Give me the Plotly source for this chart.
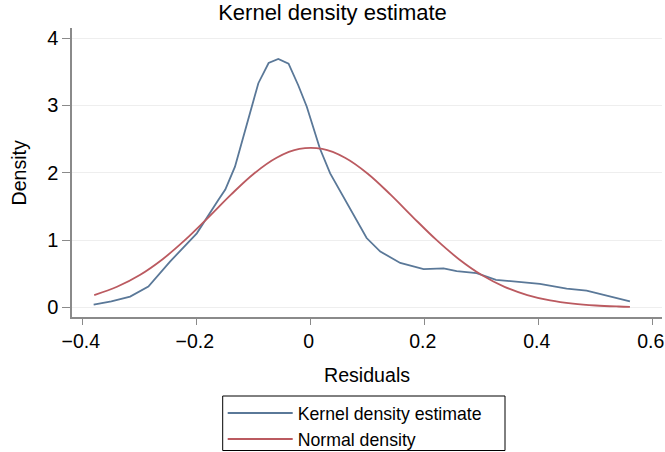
import plotly.graph_objects as go

# Kernel density estimate
kde_x = [-0.381, -0.35, -0.317, -0.285, -0.247, -0.200, -0.162, -0.150, -0.133,
         -0.106, -0.092, -0.074, -0.057, -0.039, -0.022, -0.007, 0.016, 0.034,
         0.057, 0.069, 0.098, 0.122, 0.157, 0.198, 0.233, 0.256, 0.291, 0.325,
         0.385, 0.402, 0.449, 0.484, 0.560]
kde_y = [0.04, 0.09, 0.16, 0.31, 0.68, 1.10, 1.60, 1.75, 2.09,
         2.88, 3.33, 3.63, 3.69, 3.62, 3.30, 2.98, 2.36, 1.99,
         1.65, 1.45, 1.03, 0.83, 0.66, 0.57, 0.58, 0.54, 0.51, 0.41,
         0.37, 0.35, 0.28, 0.25, 0.09]

# Normal density
norm_x = [-0.38, -0.34, -0.30, -0.26, -0.22, -0.18, -0.14, -0.10, -0.06, -0.02,
          0.02, 0.06, 0.10, 0.14, 0.18, 0.22, 0.26, 0.30, 0.34, 0.38,
          0.42, 0.46, 0.50, 0.54, 0.56]
norm_y = [0.184, 0.306, 0.481, 0.716, 1.006, 1.335, 1.675, 1.986, 2.223, 2.353,
          2.353, 2.223, 1.986, 1.675, 1.335, 1.006, 0.716, 0.481, 0.306, 0.184,
          0.104, 0.056, 0.028, 0.0135, 0.009]

x_ticks = [-0.4, -0.2, 0, 0.2, 0.4, 0.6]
x_labels = ["\u22120.4", "\u22120.2", "0", "0.2", "0.4", "0.6"]
y_ticks = [0, 1, 2, 3, 4]
y_labels = ["0", "1", "2", "3", "4"]

FONT = "Liberation Sans, Arial, Helvetica, sans-serif"
AXC = "#8a8a8a"

fig = go.Figure()
fig.add_trace(go.Scatter(x=kde_x, y=kde_y, mode="lines", name="Kernel density estimate",
                         line=dict(color="#5a7898", width=1.8)))
fig.add_trace(go.Scatter(x=norm_x, y=norm_y, mode="lines", name="Normal density",
                         line=dict(color="#bb5a60", width=1.8, shape="spline")))

fig.update_layout(
    width=665, height=452,
    margin=dict(l=72, r=3, t=28, b=135, autoexpand=False),
    paper_bgcolor="white", plot_bgcolor="white",
    font=dict(family=FONT, color="black", size=20),
    title=dict(text="Kernel density estimate", x=0.5, xanchor="center",
               y=1 - 12 / 452, yanchor="middle", yref="container",
               font=dict(size=22, family=FONT, color="black")),
    showlegend=True,
    legend=dict(x=222.7 / 665, xanchor="left", y=1 - 395 / 452, yanchor="top",
                xref="container", yref="container",
                borderwidth=0, bgcolor="rgba(0,0,0,0)",
                font=dict(size=17.7, family=FONT), itemwidth=65,
                tracegroupgap=0),
    shapes=[
        dict(type="rect", xref="paper", yref="paper",
             x0=(222.7 - 72) / 590, x1=(505 - 72) / 590,
             y0=(317 - 450.5) / 289, y1=(317 - 396) / 289,
             line=dict(color="black", width=1), fillcolor="rgba(0,0,0,0)",
             layer="above"),
    ],
    annotations=[
        dict(text="Residuals", xref="paper", yref="paper", x=0.5, y=(317 - 375) / 289,
             xanchor="center", yanchor="middle", showarrow=False,
             font=dict(size=19.6, family=FONT, color="black")),
        dict(text="Density", xref="paper", yref="paper", x=(18 - 72) / 590, y=0.5,
             xanchor="center", yanchor="middle", showarrow=False, textangle=-90,
             font=dict(size=19.6, family=FONT, color="black")),
    ],
)
fig.update_xaxes(range=[-0.419, 0.6163], tickvals=x_ticks, ticktext=x_labels,
                 showline=True, linecolor=AXC, linewidth=1.5, ticks="outside",
                 ticklen=6, tickcolor=AXC, tickwidth=1.2, showgrid=False,
                 zeroline=False, tickfont=dict(size=19.5), automargin=False,
                 ticklabeloverflow="allow", ticklabelshift=-2)
fig.update_yaxes(range=[-0.1425, 4.15], tickvals=y_ticks, ticktext=y_labels,
                 showline=True, linecolor=AXC, linewidth=1.5, ticks="outside",
                 ticklen=8, tickcolor=AXC, tickwidth=1.2, showgrid=True,
                 gridcolor="#eeeeee", gridwidth=1, zeroline=False,
                 tickfont=dict(size=20), automargin=False)

fig.write_html("out.html", config={"displayModeBar": False},
               post_script="document.body.style.margin='0';document.body.style.overflow='hidden';")
